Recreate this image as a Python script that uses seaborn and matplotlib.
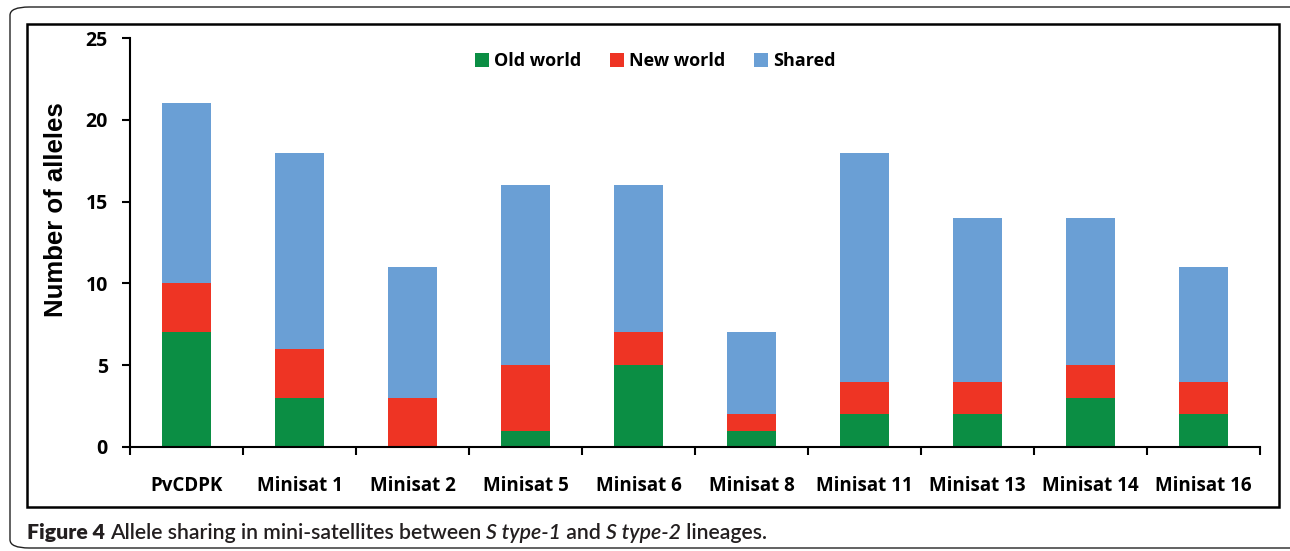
import matplotlib
matplotlib.use("Agg")
import matplotlib.pyplot as plt
from matplotlib.patches import FancyBboxPatch, Rectangle, Patch
import seaborn as sns
import pandas as pd
import numpy as np

categories = ["PvCDPK", "Minisat 1", "Minisat 2", "Minisat 5", "Minisat 6",
              "Minisat 8", "Minisat 11", "Minisat 13", "Minisat 14", "Minisat 16"]
old_world = [7, 3, 0, 1, 5, 1, 2, 2, 3, 2]
new_world = [3, 3, 3, 4, 2, 1, 2, 2, 2, 2]
shared = [11, 12, 8, 11, 9, 5, 14, 10, 9, 7]
series_names = ["Old world", "New world", "Shared"]
colors = ["#0B8E44", "#EE3424", "#6A9FD5"]
yticks = [0, 5, 10, 15, 20, 25]

sns.set_theme(style="white")
plt.rcParams["font.family"] = ["Open Sans", "DejaVu Sans"]
plt.rcParams["text.color"] = "black"
plt.rcParams["xtick.color"] = "black"
plt.rcParams["ytick.color"] = "black"

df = pd.DataFrame({"category": categories, "old": old_world,
                   "new": new_world, "shared": shared})
df["lvl1"] = df["old"]
df["lvl2"] = df["old"] + df["new"]
df["lvl3"] = df["old"] + df["new"] + df["shared"]

fig = plt.figure(figsize=(12.9, 5.51), dpi=100)
ax = fig.add_axes([130/1290, 1-447/551, 1130/1290, 409/551])

for col, c in zip(["lvl3", "lvl2", "lvl1"], [colors[2], colors[1], colors[0]]):
    sns.barplot(data=df, x="category", y=col, color=c, width=0.43,
                saturation=1, ax=ax, edgecolor="none", linewidth=0)

ax.set_ylim(0, 25)
ax.set_xlim(-0.5, 9.5)
ax.set_yticks(yticks)
ax.set_yticklabels([str(t) for t in yticks], fontsize=14, fontweight="bold")
ax.set_xticks(range(len(categories)))
ax.set_xticklabels(categories, fontsize=13.5, fontweight="bold")
ax.set_xticks(np.arange(-0.5, 10, 1), minor=True)
ax.tick_params(axis="x", which="major", length=0, pad=21)
ax.tick_params(axis="x", which="minor", length=6, width=1.5, direction="out", color="black", bottom=True)
ax.tick_params(axis="y", length=6, width=1.5, direction="out", color="black", left=True, pad=10)
ax.set_xlabel("")
ax.set_ylabel("")
fig.text(56/1290, 1-210/551, "Number of alleles", rotation=90, fontsize=18.5,
         fontweight="bold", family=["Liberation Sans", "DejaVu Sans"],
         ha="center", va="center")
for s in ["top", "right"]:
    ax.spines[s].set_visible(False)
for s in ["left", "bottom"]:
    ax.spines[s].set_color("black")
    ax.spines[s].set_linewidth(1.5)

handles = [Patch(facecolor=c, edgecolor="none") for c in colors]
ax.legend(handles, series_names, loc="upper center", bbox_to_anchor=(0.465, 1.005),
          ncol=3, frameon=False, prop={"weight": "bold", "size": 13},
          handlelength=0.75, handleheight=0.75, handletextpad=0.3, columnspacing=1.6)

# figure frames
fig.patches.append(FancyBboxPatch((10/1290, 3/551), 1300/1290, 541/551,
                                  boxstyle="round,pad=0,rounding_size=0.015",
                                  transform=fig.transFigure, fill=False,
                                  edgecolor="#222222", linewidth=1.0))
fig.patches.append(Rectangle((27/1290, 1-507/551), 1252/1290, 483/551,
                             transform=fig.transFigure, fill=False,
                             edgecolor="black", linewidth=1.8))

# caption
fig.canvas.draw()
renderer = fig.canvas.get_renderer()
cap = [("Figure 4 ", "heavy", "normal"),
       ("Allele sharing in mini-satellites between ", "semibold", "normal"),
       ("S type-1", "semibold", "italic"), (" and ", "semibold", "normal"),
       ("S type-2", "semibold", "italic"), (" lineages.", "semibold", "normal")]
x = 27/1290
for txt, weight, style in cap:
    t = fig.text(x, 1-533/551, txt, fontsize=15.3, fontweight=weight, style=style,
                 family=["Lato", "DejaVu Sans"], va="center", ha="left", color="#231F20")
    bb = t.get_window_extent(renderer)
    x = bb.x1 / fig.bbox.width

fig.savefig("out.png", dpi=100)
